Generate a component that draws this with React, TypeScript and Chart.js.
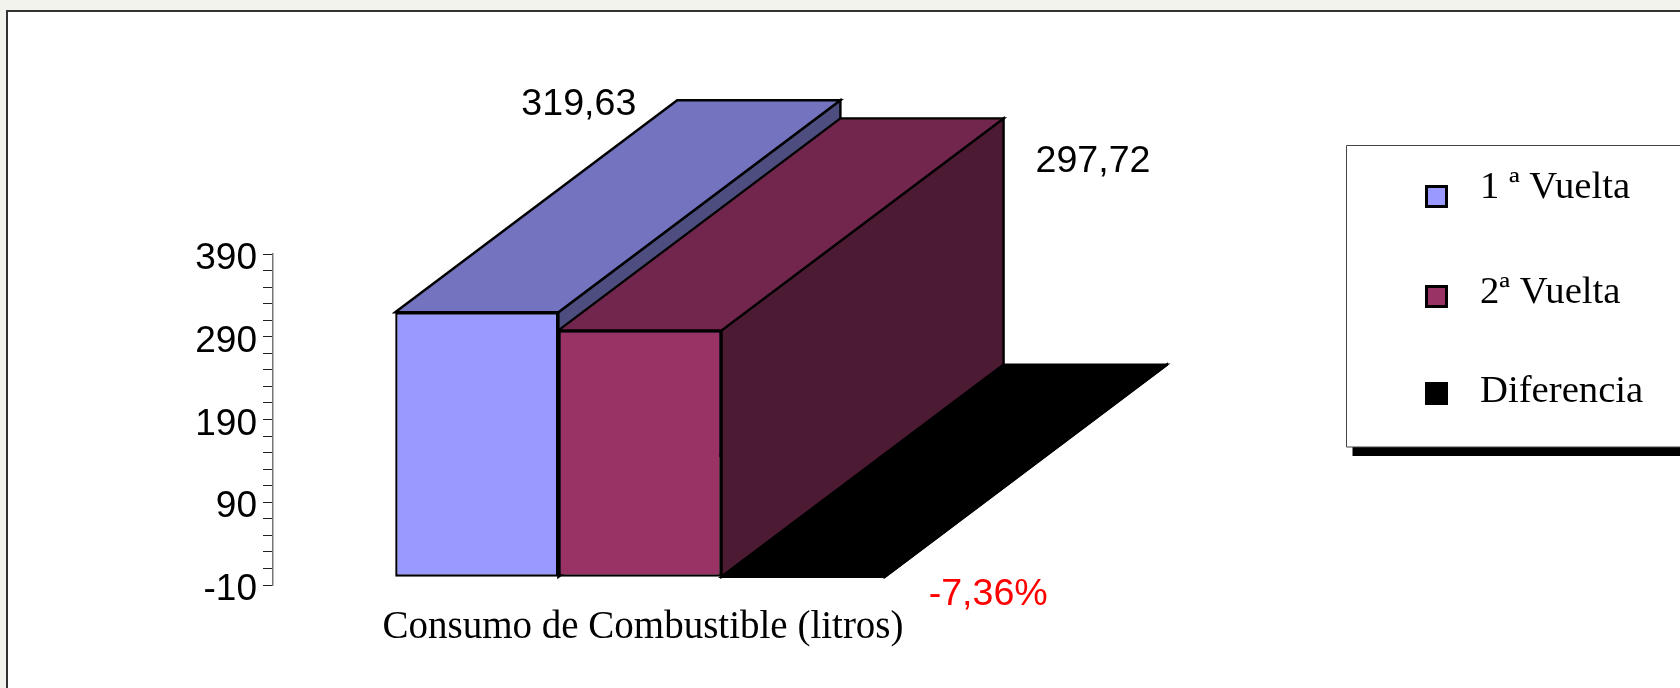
import React, { useEffect, useRef } from "react";
import { Chart, registerables, Plugin } from "chart.js";

Chart.register(...registerables);

const categories = ["Consumo de Combustible (litros)"];
const seriesNames = ["1 ª Vuelta", "2ª Vuelta", "Diferencia"];
const vuelta1 = [319.63];
const vuelta2 = [297.72];
const diferencia = [-0.0736];
const valueLabels = ["319,63", "297,72", "-7,36%"];
const yTickLabels = [390, 290, 190, 90, -10];

const frontColors = ["#9999FF", "#993366", "#000000"];
const topColors = ["#7373BF", "#73264D", "#000000"];
const sideColors = ["#4D4D80", "#4D1A33", "#000000"];

const DEPTH_X = 282;
const DEPTH_Y = 212;
const SANS = '"Liberation Sans", Arial, sans-serif';
const SERIF = '"Liberation Serif", serif';

const poly = (ctx: CanvasRenderingContext2D, pts: number[][], fill: string, stroke: string, lw = 2.4) => {
  ctx.beginPath();
  pts.forEach((p, i) => (i ? ctx.lineTo(p[0], p[1]) : ctx.moveTo(p[0], p[1])));
  ctx.closePath();
  ctx.fillStyle = fill;
  ctx.fill();
  ctx.lineJoin = "miter";
  ctx.lineWidth = lw;
  ctx.strokeStyle = stroke;
  ctx.stroke();
};

const framePlugin: Plugin = {
  id: "frame",
  beforeDraw(chart) {
    const { ctx, width, height } = chart;
    ctx.save();
    ctx.fillStyle = "#F3F3EE";
    ctx.fillRect(0, 0, width, height);
    ctx.fillStyle = "#FFFFFF";
    ctx.fillRect(7, 11, width - 7, height - 11);
    ctx.strokeStyle = "#333333";
    ctx.lineWidth = 2;
    ctx.beginPath();
    ctx.moveTo(7, height);
    ctx.lineTo(7, 11);
    ctx.lineTo(width, 11);
    ctx.stroke();
    ctx.restore();
  },
};

const depthPlugin: Plugin = {
  id: "depth",
  beforeDatasetsDraw(chart) {
    const { ctx } = chart;
    ctx.save();
    chart.data.datasets.forEach((_, i) => {
      const bar: any = chart.getDatasetMeta(i).data[0];
      const half = bar.width / 2;
      const l = bar.x - half;
      const r = bar.x + half;
      const t = Math.min(bar.y, bar.base);
      const b = Math.max(bar.y, bar.base);
      poly(ctx, [[r, t], [r + DEPTH_X, t - DEPTH_Y], [r + DEPTH_X, b - DEPTH_Y], [r, b]], sideColors[i], "#000000");
      poly(ctx, [[l, t], [l + DEPTH_X, t - DEPTH_Y], [r + DEPTH_X, t - DEPTH_Y], [r, t]], topColors[i], "#000000");
    });
    ctx.restore();
  },
};

const labelPlugin: Plugin = {
  id: "valueLabels",
  afterDatasetsDraw(chart) {
    const { ctx } = chart;
    const offsets = [
      [102, -208],
      [453, -169],
      [185, 18],
    ];
    ctx.save();
    ctx.textAlign = "center";
    ctx.textBaseline = "middle";
    ctx.font = `37.6px ${SANS}`;
    valueLabels.forEach((text, i) => {
      const bar: any = chart.getDatasetMeta(i).data[0];
      ctx.fillStyle = i === 2 ? "#FF0000" : "#000000";
      ctx.fillText(text, bar.x + offsets[i][0], bar.y + offsets[i][1]);
    });
    ctx.restore();
  },
};

const legendPlugin: Plugin = {
  id: "boxLegend",
  afterDraw(chart) {
    const { ctx, width } = chart;
    const boxL = 1346.5;
    const boxT = 145.5;
    const boxB = 447;
    const rows = [
      { sy: 185, ty: 198 },
      { sy: 285, ty: 303 },
      { sy: 382, ty: 402 },
    ];
    ctx.save();
    ctx.fillStyle = "#000000";
    ctx.fillRect(boxL + 6, boxB, width - boxL, 9);
    ctx.fillStyle = "#FFFFFF";
    ctx.fillRect(boxL, boxT, width - boxL, boxB - boxT);
    ctx.strokeStyle = "#444444";
    ctx.lineWidth = 1;
    ctx.beginPath();
    ctx.moveTo(width, boxT);
    ctx.lineTo(boxL, boxT);
    ctx.lineTo(boxL, boxB);
    ctx.lineTo(width, boxB);
    ctx.stroke();
    ctx.textAlign = "left";
    ctx.textBaseline = "alphabetic";
    ctx.font = `38.7px ${SERIF}`;
    rows.forEach((row, i) => {
      ctx.fillStyle = "#000000";
      ctx.fillRect(1425, row.sy, 23, 23);
      ctx.fillStyle = frontColors[i];
      ctx.fillRect(1428, row.sy + 3, 17, 17);
      ctx.fillStyle = "#000000";
      ctx.fillText(seriesNames[i], 1480, row.ty);
    });
    ctx.restore();
  },
};

export default function App() {
  const ref = useRef<HTMLCanvasElement>(null);
  useEffect(() => {
    document.body.style.margin = "0";
    const seriesValues = [vuelta1, vuelta2, diferencia];
    const chart = new Chart(ref.current!, {
      type: "bar",
      data: {
        labels: categories,
        datasets: seriesValues.map((data, i) => ({
          label: seriesNames[i],
          data,
          backgroundColor: frontColors[i],
          borderColor: "#000000",
          borderWidth: i === 2 ? 0 : 2.4,
          borderSkipped: false,
          categoryPercentage: 0.667,
          barPercentage: 1,
        })),
      },
      options: {
        animation: false,
        responsive: false,
        devicePixelRatio: 1,
        layout: { padding: { left: 0, right: 673, top: 254, bottom: 0 } },
        plugins: { legend: { display: false }, tooltip: { enabled: false }, title: { display: false } },
        scales: {
          x: {
            grid: { display: false, drawTicks: false },
            border: { display: false },
            afterFit(axis: any) {
              axis.height = 103;
            },
            ticks: {
              color: "#000000",
              padding: 19,
              labelOffset: 3,
              maxRotation: 0,
              font: { family: SERIF, size: 39 },
            },
          },
          y: {
            min: -10,
            max: 390,
            afterFit(axis: any) {
              axis.width = 273;
            },
            grid: { drawOnChartArea: false, drawTicks: true, tickLength: 10, color: "#222222", lineWidth: 1 },
            border: { color: "#777777", width: 1.5 },
            ticks: {
              stepSize: 20,
              autoSkip: false,
              color: "#000000",
              padding: 6,
              font: { family: SANS, size: 37, lineHeight: "10px" },
              callback: (v: any) => (yTickLabels.includes(Number(v)) ? ["", String(v)] : ""),
            },
          },
        },
      },
      plugins: [framePlugin, depthPlugin, labelPlugin, legendPlugin],
    } as any);
    return () => chart.destroy();
  }, []);
  return <canvas ref={ref} width={1680} height={688} style={{ display: "block", width: 1680, height: 688 }} />;
}
